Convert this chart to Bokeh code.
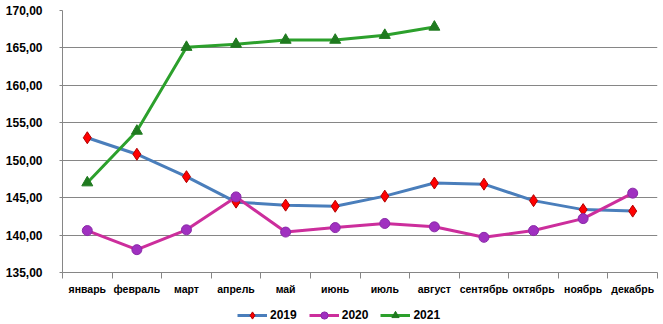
from bokeh.plotting import figure
from bokeh.layouts import column
from bokeh.models import FixedTicker, Legend, LegendItem, Range1d
from bokeh.embed import file_html
from bokeh.resources import INLINE

months = ["январь", "февраль", "март", "апрель", "май", "июнь", "июль",
          "август", "сентябрь", "октябрь", "ноябрь", "декабрь"]
v2019 = [153.0, 150.8, 147.8, 144.4, 144.0, 143.85, 145.2, 146.95, 146.8, 144.6, 143.4, 143.2]
v2020 = [140.6, 138.05, 140.7, 145.1, 140.4, 141.0, 141.55, 141.1, 139.7, 140.6, 142.2, 145.6]
v2021 = [147.0, 153.9, 165.1, 165.5, 166.05, 166.05, 166.7, 167.8]
years = ["2019", "2020", "2021"]
y_ticks = [135, 140, 145, 150, 155, 160, 165, 170]
y_labels = ["135,00", "140,00", "145,00", "150,00", "155,00", "160,00", "165,00", "170,00"]

FONT = "Liberation Sans"

p = figure(width=663, height=300, output_backend="svg", toolbar_location=None,
           x_range=Range1d(0, len(months)), y_range=Range1d(135, 170),
           min_border_left=62, min_border_right=6, min_border_top=10, min_border_bottom=28)
p.outline_line_color = None
p.background_fill_color = "white"

xs = [i + 0.5 for i in range(len(months))]

p.xaxis.ticker = FixedTicker(ticks=xs, minor_ticks=list(range(len(months) + 1)))
p.xaxis.major_label_overrides = {x: m for x, m in zip(xs, months)}
p.xaxis.major_tick_out = 0
p.xaxis.major_tick_in = 0
p.xaxis.minor_tick_out = 6
p.xaxis.minor_tick_in = 0
p.xaxis.minor_tick_line_color = "#868686"
p.xaxis.axis_line_color = "#868686"
p.xaxis.major_label_standoff = 4
p.xaxis.major_label_text_font = FONT
p.xaxis.major_label_text_font_size = "10.5px"
p.xaxis.major_label_text_font_style = "bold"
p.xaxis.major_label_text_color = "black"
p.xgrid.grid_line_color = None

p.yaxis.ticker = FixedTicker(ticks=y_ticks, minor_ticks=[])
p.yaxis.major_label_overrides = {t: l for t, l in zip(y_ticks, y_labels)}
p.yaxis.major_tick_out = 3
p.yaxis.major_tick_in = 0
p.yaxis.major_tick_line_color = "#868686"
p.yaxis.axis_line_color = "#868686"
p.yaxis.major_label_standoff = 17
p.yaxis.major_label_text_font = FONT
p.yaxis.major_label_text_font_size = "12px"
p.yaxis.major_label_text_font_style = "bold"
p.yaxis.major_label_text_color = "black"
p.ygrid.grid_line_color = "#868686"
p.ygrid.grid_line_width = 1

styles = [
    dict(line="#4a7ebb", marker="diamond", size=12, fill="#ff0000", edge="#b00000"),
    dict(line="#cc2e9c", marker="circle", size=10, fill="#a030c0", edge="#8a2aa8"),
    dict(line="#2ca02c", marker="triangle", size=11, fill="#1f7a1f", edge="#1f7a1f"),
]
series = [v2019, v2020, v2021]

# legend strip below the chart (its frame is aligned with the chart's frame)
lg = figure(width=663, height=24, output_backend="svg", toolbar_location=None,
            x_range=Range1d(0, 1), y_range=Range1d(0, 1),
            min_border_left=62, min_border_right=6, min_border_top=0, min_border_bottom=0)
lg.axis.visible = False
lg.grid.visible = False
lg.outline_line_color = None

items = []
for yr, vals, st in zip(years, series, styles):
    xv = xs[:len(vals)]
    p.line(xv, vals, line_color=st["line"], line_width=3)
    p.scatter(xv, vals, marker=st["marker"], size=st["size"],
              fill_color=st["fill"], line_color=st["edge"], line_width=1)
    # proxy renderers outside the strip's visible range, used only for legend swatches
    r1 = lg.line([-5, -4], [-5, -5], line_color=st["line"], line_width=3)
    r2 = lg.scatter([-5], [-5], marker=st["marker"], size=st["size"],
                    fill_color=st["fill"], line_color=st["edge"], line_width=1)
    items.append(LegendItem(label=yr, renderers=[r1, r2]))

legend = Legend(items=items, orientation="horizontal", location=(175, 0),
                glyph_width=30, glyph_height=18, label_height=14,
                label_standoff=3, spacing=12, padding=0, margin=0,
                border_line_color=None, background_fill_alpha=0,
                label_text_font=FONT, label_text_font_size="12px",
                label_text_font_style="bold", label_text_color="black")
lg.add_layout(legend, "center")

layout = column(p, lg, spacing=0)
open("out.html", "w").write(file_html(layout, INLINE))
